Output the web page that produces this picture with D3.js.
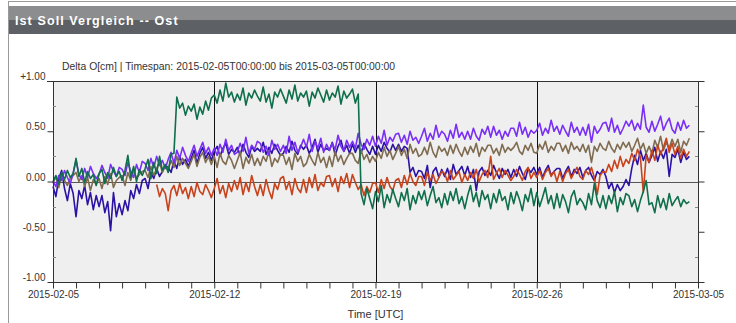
<!DOCTYPE html>
<html><head><meta charset="utf-8">
<script src="https://cdn.jsdelivr.net/npm/d3@7"></script>
<style>
html,body{margin:0;padding:0;background:#fff;}
svg{display:block;font-family:"Liberation Sans",Arial,sans-serif;}
</style></head>
<body><svg id="c" width="736" height="323"></svg>
<script>
const titleText = "Ist Soll Vergleich -- Ost";
const subtitleText = "Delta O[cm] | Timespan: 2015-02-05T00:00:00 bis 2015-03-05T00:00:00";
const xAxisTitle = "Time [UTC]";
const xTickDates = ["2015-02-05","2015-02-12","2015-02-19","2015-02-26","2015-03-05"];
const yTickValues = [1, 0.5, 0, -0.5, -1];
const yTickLabels = ["+1.00","0.50","0.00","-0.50","-1.00"];
const yMinorValues = [0.75, 0.25, -0.25, -0.75];
const stepHours = 3;

const seriesNames = ["indigo","brown","violet","red","green"];
const seriesStarts = ["2015-02-05T00:00:00Z","2015-02-05T00:00:00Z","2015-02-05T00:00:00Z","2015-02-09T12:00:00Z","2015-02-05T00:00:00Z"];

const brownValues = [
-0.02,0.05,-0.06,0.07,0.01,-0.04,0.03,0.06,
0.09,0.00,0.06,-0.05,0.04,-0.09,0.02,-0.03,
0.03,-0.07,0.05,-0.03,0.08,-0.06,0.01,0.04,
0.06,-0.04,0.09,0.01,0.12,0.03,0.07,0.10,
0.11,0.04,0.15,0.06,0.13,0.19,0.09,0.16,
0.12,0.21,0.14,0.25,0.16,0.23,0.18,0.13,
0.20,0.27,0.15,0.24,0.29,0.19,0.25,0.17,
0.25,0.14,0.28,0.20,0.17,0.26,0.21,0.13,
0.21,0.29,0.13,0.24,0.18,0.27,0.16,0.23,
0.16,0.25,0.20,0.30,0.15,0.23,0.19,0.27,
0.26,0.17,0.24,0.12,0.28,0.20,0.25,0.15,
0.18,0.27,0.21,0.16,0.29,0.19,0.24,0.14,
0.25,0.15,0.30,0.20,0.26,0.17,0.23,0.28,
0.28,0.21,0.18,0.31,0.22,0.27,0.19,0.25,
0.20,0.29,0.23,0.34,0.25,0.31,0.22,0.28,
0.35,0.26,0.32,0.23,0.37,0.28,0.33,0.25,
0.27,0.34,0.27,0.39,0.29,0.24,0.35,0.30,
0.33,0.26,0.36,0.28,0.37,0.30,0.25,0.34,
0.27,0.35,0.29,0.38,0.25,0.34,0.30,0.36,
0.36,0.28,0.33,0.26,0.37,0.29,0.34,0.31,
0.34,0.39,0.30,0.27,0.36,0.31,0.38,0.29,
0.28,0.37,0.32,0.40,0.29,0.35,0.31,0.38,
0.38,0.30,0.36,0.28,0.39,0.32,0.35,0.30,
0.37,0.29,0.36,0.19,0.35,0.30,0.38,0.33,
0.31,0.40,0.33,0.29,0.37,0.32,0.39,0.34,
0.39,0.30,0.36,0.43,0.32,0.38,0.28,0.35,
0.28,0.41,0.34,0.45,0.31,0.39,0.33,0.42,
0.35,0.42,0.29,0.40,0.36,0.43];

const violetValues = [
0.00,-0.05,0.06,0.01,0.11,0.04,-0.02,0.08,
0.21,0.07,0.02,0.13,0.04,0.15,0.08,0.03,
0.07,0.16,0.09,0.03,0.17,0.10,0.05,0.14,
0.12,0.06,0.19,0.10,0.04,0.17,0.09,0.20,
0.18,0.11,0.23,0.14,0.25,0.16,0.21,0.13,
0.22,0.29,0.18,0.31,0.23,0.34,0.26,0.20,
0.28,0.36,0.25,0.32,0.39,0.28,0.34,0.26,
0.33,0.26,0.37,0.29,0.42,0.31,0.36,0.27,
0.29,0.38,0.30,0.44,0.28,0.36,0.32,0.40,
0.38,0.29,0.35,0.26,0.41,0.32,0.37,0.30,
0.36,0.28,0.45,0.31,0.39,0.29,0.34,0.42,
0.34,0.47,0.30,0.40,0.33,0.43,0.29,0.37,
0.31,0.38,0.32,0.46,0.35,0.30,0.41,0.34,
0.40,0.33,0.48,0.37,0.32,0.42,0.36,0.45,
0.35,0.45,0.38,0.51,0.36,0.44,0.40,0.47,
0.48,0.39,0.46,0.37,0.50,0.41,0.44,0.38,
0.45,0.53,0.40,0.48,0.42,0.56,0.44,0.50,
0.47,0.40,0.51,0.43,0.57,0.44,0.49,0.42,
0.50,0.42,0.53,0.45,0.41,0.52,0.47,0.55,
0.44,0.55,0.46,0.51,0.42,0.50,0.45,0.53,
0.53,0.45,0.59,0.47,0.54,0.44,0.51,0.48,
0.51,0.58,0.46,0.53,0.48,0.61,0.50,0.55,
0.47,0.56,0.50,0.45,0.59,0.49,0.54,0.46,
0.54,0.46,0.57,0.39,0.55,0.48,0.52,0.58,
0.59,0.50,0.63,0.49,0.56,0.47,0.53,0.60,
0.55,0.61,0.51,0.58,0.52,0.76,0.54,0.49,
0.60,0.50,0.57,0.65,0.51,0.58,0.63,0.52,
0.48,0.59,0.51,0.61,0.53,0.56];

const indigoValues = [
-0.05,-0.15,0.03,0.11,-0.07,-0.19,-0.02,-0.12,
-0.35,-0.09,-0.17,-0.04,-0.23,-0.11,-0.28,-0.14,
-0.25,-0.14,-0.31,-0.20,-0.49,-0.11,-0.35,-0.22,
-0.33,-0.19,-0.29,-0.09,-0.17,-0.03,-0.12,0.01,
0.03,-0.07,0.09,0.03,0.13,0.05,0.10,0.16,
0.14,0.09,0.21,0.13,0.25,0.17,0.22,0.15,
0.23,0.31,0.18,0.28,0.34,0.23,0.29,0.21,
0.30,0.35,0.25,0.33,0.38,0.27,0.32,0.29,
0.34,0.26,0.37,0.29,0.24,0.35,0.30,0.33,
0.30,0.39,0.27,0.34,0.28,0.37,0.31,0.26,
0.28,0.35,0.29,0.40,0.31,0.27,0.36,0.32,
0.36,0.28,0.34,0.42,0.29,0.37,0.31,0.33,
0.31,0.39,0.26,0.35,0.41,0.30,0.36,0.28,
0.37,0.29,0.36,0.28,0.38,0.32,0.27,0.35,
0.27,0.36,0.30,0.39,0.33,0.29,0.37,0.31,
0.37,0.30,0.35,0.33,0.09,0.14,0.05,0.11,
0.10,0.03,0.16,-0.06,0.10,0.14,0.04,0.12,
0.05,0.13,0.02,0.17,0.07,0.11,0.15,0.06,
0.15,0.04,0.12,-0.09,0.10,0.14,0.06,0.11,
0.06,0.16,0.09,0.03,0.13,0.07,0.12,0.04,
0.12,0.05,0.15,0.08,0.02,0.13,0.09,0.14,
0.07,0.14,0.04,0.11,0.16,0.06,0.10,0.13,
0.13,0.03,0.10,0.15,0.05,0.12,0.08,0.14,
0.04,0.11,0.14,0.06,0.01,0.10,0.07,0.12,
0.05,-0.07,-0.01,-0.11,-0.03,-0.09,-0.05,0.02,
-0.04,0.13,0.26,0.17,0.31,0.21,0.28,0.19,
0.26,0.34,0.20,0.30,0.23,0.32,0.05,0.27,
0.24,0.32,0.19,0.29,0.22,0.25];

const redValues = [
-0.03,-0.15,-0.07,-0.12,
-0.29,-0.09,-0.04,-0.14,-0.02,-0.12,-0.06,-0.17,
-0.05,-0.15,-0.01,-0.10,-0.13,-0.03,-0.09,-0.16,
-0.07,0.03,-0.12,-0.04,-0.16,-0.02,-0.10,0.01,
-0.08,0.04,-0.13,-0.01,-0.10,0.06,-0.05,-0.14,
-0.03,-0.14,0.02,-0.09,-0.17,-0.02,-0.08,0.03,
0.05,-0.08,0.00,-0.13,0.03,-0.07,-0.11,0.02,
-0.11,0.04,-0.06,0.07,-0.09,-0.01,-0.05,0.05,
0.06,-0.05,0.03,-0.10,0.05,-0.02,0.08,-0.06,
0.07,-0.01,-0.08,-0.03,-0.14,-0.05,-0.11,-0.02,
-0.01,-0.11,0.02,-0.07,0.04,-0.05,-0.09,0.01,
0.03,-0.06,0.06,-0.03,0.08,0.00,-0.04,0.05,
0.05,-0.04,0.09,0.01,0.07,-0.02,0.04,0.10,
0.08,0.00,0.11,0.02,0.06,0.10,-0.01,0.07,
0.01,0.09,0.03,0.12,0.00,0.07,0.11,0.04,
0.25,0.02,0.08,0.13,0.04,0.11,0.06,0.01,
0.05,0.12,0.07,0.01,0.10,0.14,0.03,0.09,
0.04,0.11,0.02,0.09,0.13,0.05,0.10,0.00,
0.10,0.00,0.08,0.12,0.03,0.09,0.14,0.05,
0.02,0.11,0.07,0.14,0.04,-0.13,0.06,0.10,
0.09,0.17,0.10,0.21,0.13,0.25,0.15,0.22,
0.18,0.28,0.21,0.32,0.24,-0.11,0.26,0.19,
0.31,0.21,0.36,0.27,0.34,0.43,0.29,0.38,
0.27,0.35,0.23,0.32,0.25,0.30];

const greenValues = [
0.00,0.06,-0.03,0.09,0.02,0.11,0.04,0.08,
0.23,0.05,0.13,-0.01,0.10,0.03,0.07,-0.04,
0.08,0.12,-0.02,0.09,0.03,0.14,0.05,0.10,
0.01,0.11,0.26,0.04,0.15,0.00,0.12,0.06,
0.13,0.22,0.03,0.19,0.08,0.25,0.11,0.17,
0.09,0.27,0.28,0.84,0.73,0.78,0.66,0.75,
0.70,0.77,0.62,0.74,0.67,0.80,0.71,0.83,
0.86,0.78,0.91,0.80,0.98,0.84,0.89,0.79,
0.87,0.81,0.93,0.76,0.88,0.83,0.91,0.85,
0.80,0.94,0.79,0.87,0.73,0.89,0.84,0.92,
0.85,0.78,0.91,0.82,0.96,0.80,0.88,0.84,
0.90,0.75,0.89,0.83,0.93,0.86,0.79,0.91,
0.81,0.88,0.84,0.95,0.77,0.90,0.83,0.87,
0.92,0.78,0.87,-0.12,-0.23,-0.07,-0.17,-0.27,
-0.10,-0.20,-0.04,-0.26,-0.13,-0.21,-0.08,-0.17,
-0.25,-0.11,-0.19,-0.07,-0.28,-0.14,-0.22,-0.10,
-0.18,-0.09,-0.24,-0.14,-0.05,-0.21,-0.16,-0.26,
-0.12,-0.23,-0.10,-0.19,-0.07,-0.22,-0.15,-0.27,
-0.14,-0.04,-0.20,-0.11,-0.25,-0.09,-0.18,-0.13,
-0.27,-0.12,-0.21,-0.08,-0.19,-0.15,-0.28,-0.11,
-0.22,-0.10,-0.18,-0.29,-0.13,-0.20,-0.07,-0.24,
-0.11,-0.25,-0.16,-0.06,-0.22,-0.14,-0.27,-0.12,
-0.26,-0.13,-0.20,-0.31,-0.15,-0.09,-0.23,-0.17,
-0.21,-0.28,-0.12,-0.23,-0.02,-0.19,-0.26,-0.14,
-0.27,-0.14,-0.22,-0.10,-0.30,-0.16,-0.23,-0.12,
-0.14,-0.25,-0.18,-0.30,-0.19,-0.10,0.01,-0.23,
-0.21,-0.31,-0.14,-0.26,-0.17,-0.28,-0.12,-0.24,
-0.19,-0.15,-0.25,-0.18,-0.22,-0.20];

const seriesValues = [indigoValues, brownValues, violetValues, redValues, greenValues];
const seriesColors = ["#2c12a4","#7f6b50","#7a2ff6","#c8431c","#0f6e4b"];

const svg = d3.select("#c");
const W = 736, H = 323;
const M = {left:53, right:698, top:81, bottom:282};

svg.append("rect").attr("x",8.5).attr("y",1.5).attr("width",W).attr("height",H+5)
  .attr("fill","#fff").attr("stroke","#9a9a9a");
svg.append("rect").attr("x",9).attr("y",6).attr("width",W).attr("height",14).attr("fill","#8c8d8f");
svg.append("rect").attr("x",9).attr("y",20).attr("width",W).attr("height",14).attr("fill","#5d6064");
svg.append("text").attr("x",15).attr("y",25).text(titleText)
  .attr("fill","#fff").attr("font-weight","bold").attr("font-size",12.5).attr("letter-spacing",1.1);

const x = d3.scaleUtc().domain([new Date(xTickDates[0]+"T00:00:00Z"), new Date(xTickDates[xTickDates.length-1]+"T00:00:00Z")]).range([M.left, M.right]);
const y = d3.scaleLinear().domain([-1,1]).range([M.bottom, M.top]);

svg.append("rect").attr("x",M.left).attr("y",M.top).attr("width",M.right-M.left).attr("height",M.bottom-M.top).attr("fill","#efefef");

svg.append("text").attr("x",62).attr("y",70).text(subtitleText).attr("font-size",10.4).attr("fill","#333");

const gridDates = xTickDates.slice(1,-1).map(d=>new Date(d+"T00:00:00Z"));
svg.append("g").selectAll("line").data(gridDates).join("line")
  .attr("x1",d=>Math.round(x(d))+0.5).attr("x2",d=>Math.round(x(d))+0.5)
  .attr("y1",M.top).attr("y2",M.bottom).attr("stroke","#111").attr("stroke-width",1);
svg.append("line").attr("x1",M.left).attr("x2",M.right).attr("y1",Math.round(y(0))+0.5).attr("y2",Math.round(y(0))+0.5)
  .attr("stroke","#555").attr("stroke-width",1.2);

const line = d3.line().x(d=>x(d.t)).y(d=>y(d.v));
seriesValues.forEach((vals,k)=>{
  const t0 = new Date(seriesStarts[k]).getTime();
  const pts = vals.map((v,i)=>({t:new Date(t0 + i*stepHours*3600e3), v}));
  svg.append("path").datum(pts).attr("d",line).attr("fill","none")
    .attr("stroke",seriesColors[k]).attr("stroke-width",1.6).attr("stroke-linejoin","round");
});

const ax = svg.append("g").attr("stroke","#333").attr("stroke-width",1);
ax.append("line").attr("x1",47).attr("x2",704).attr("y1",M.top+0.5).attr("y2",M.top+0.5);
ax.append("line").attr("x1",M.left+0.5).attr("x2",M.left+0.5).attr("y1",M.top).attr("y2",M.bottom);
ax.append("line").attr("x1",M.right+0.5).attr("x2",M.right+0.5).attr("y1",M.top).attr("y2",M.bottom+6);

const yAxisL = d3.axisLeft(y).tickValues(yTickValues).tickSize(6).tickFormat((d,i)=>yTickLabels[i]);
const gL = svg.append("g").attr("transform",`translate(${M.left+0.5},0)`).call(yAxisL);
gL.select(".domain").remove();
gL.selectAll("line").attr("stroke","#333");
gL.selectAll("text").attr("font-size",10).attr("fill","#333").attr("font-family","Liberation Sans, Arial, sans-serif")
  .attr("x",-8).attr("dy","-0.15em");
const yAxisR = d3.axisRight(y).tickValues(yTickValues).tickSize(6).tickFormat("");
const gR = svg.append("g").attr("transform",`translate(${M.right+0.5},0)`).call(yAxisR);
gR.select(".domain").remove();
gR.selectAll("line").attr("stroke","#333");
svg.append("g").selectAll("line").data(yMinorValues).join("line")
  .attr("x1",M.left).attr("x2",M.left+3).attr("y1",d=>Math.round(y(d))+0.5).attr("y2",d=>Math.round(y(d))+0.5).attr("stroke","#888");
svg.append("g").selectAll("line").data(yMinorValues).join("line")
  .attr("x1",M.right-3).attr("x2",M.right).attr("y1",d=>Math.round(y(d))+0.5).attr("y2",d=>Math.round(y(d))+0.5).attr("stroke","#888");

const labelSet = new Set(xTickDates);
const fmt = d3.utcFormat("%Y-%m-%d");
const xAxis = d3.axisBottom(x).ticks(d3.utcDay.every(1)).tickSize(6)
  .tickFormat(d=>labelSet.has(fmt(d))?fmt(d):"");
const gB = svg.append("g").attr("transform",`translate(0,${M.bottom+0.5})`).call(xAxis);
gB.select(".domain").attr("stroke","#333").attr("d",`M${M.left},0H${M.right+6}`);
gB.selectAll("line").attr("stroke","#333");
gB.selectAll("text").attr("font-size",10).attr("fill","#333").attr("font-family","Liberation Sans, Arial, sans-serif").attr("dy","0.6em");

svg.append("text").attr("x",(M.left+M.right)/2).attr("y",318).attr("text-anchor","middle")
  .text(xAxisTitle).attr("font-size",11).attr("fill","#333");
</script></body></html>
